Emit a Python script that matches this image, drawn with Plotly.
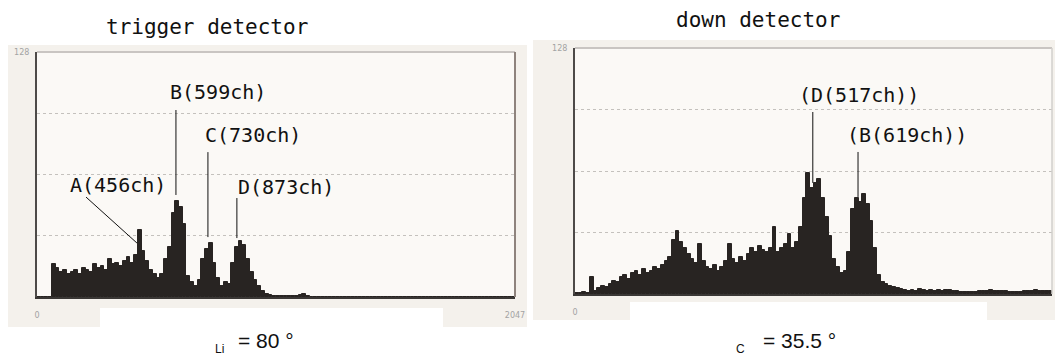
import plotly.graph_objects as go

W, H = 1055, 358
def px(x): return x / W
def py(y): return 1 - y / H

# ---------------- data ----------------
left_bin_width = 16   # channels per bin (0..2047)
right_bin_width = 8   # channels per bin (0..1023)

left_counts = [
    0, 0, 0, 0, 17, 15, 13, 14,
    12, 13, 14, 12, 15, 14, 13, 17,
    15, 16, 14, 20, 17, 18, 16, 19,
    21, 18, 22, 35, 24, 19, 14, 12,
    10, 12, 20, 26, 44, 50, 47, 38,
    11, 8, 6, 9, 20, 25, 28, 18,
    10, 6, 8, 7, 18, 26, 29, 27,
    20, 13, 9, 6, 3, 1.5, 0.8, 0.6,
    0.5, 0.4, 0.5, 0.3, 0.4, 0.5, 1.2, 1.5,
    0.6, 0, 0, 0, 0, 0, 0, 0,
    0, 0, 0, 0, 0, 0, 0, 0,
    0, 0, 0, 0, 0, 0, 0, 0,
    0, 0, 0, 0, 0, 0, 0, 0,
    0, 0, 0, 0, 0, 0, 0, 0,
    0, 0, 0, 0, 0, 0, 0, 0,
    0, 0, 0, 0, 0, 0, 0, 0,
]

right_counts = [
    0.5, 0.5, 0.8, 0.6, 9, 1.5, 3, 4,
    3.5, 5, 7, 6, 9, 10, 8, 11,
    12, 10, 13, 11, 12, 14, 13, 15,
    17, 19, 28, 33, 27, 24, 21, 18,
    16, 26, 17, 14, 13, 15, 12, 14,
    17, 26, 18, 16, 19, 17, 21, 24,
    22, 25, 23, 22, 24, 35, 22, 24,
    26, 31, 24, 27, 35, 50, 63, 55,
    58, 60, 50, 40, 30, 18, 14, 11,
    12, 22, 44, 50, 48, 52, 47, 38,
    24, 10, 6, 5, 4, 3.5, 3, 2.5,
    2, 1.8, 2.2, 1.6, 2.4, 2, 1.7, 2.3,
    1.8, 2, 1.5, 2.2, 1.9, 1.6, 1.4, 1,
    1, 0.9, 1, 1.1, 1.7, 1.8, 1.6, 1.9,
    1.7, 1.8, 1.5, 1.6, 1, 0.9, 1, 1.1,
    1.7, 1.8, 1.6, 1.9, 1.7, 1.8, 1.7, 1.8,
]

left_x = [i * left_bin_width + left_bin_width / 2 for i in range(len(left_counts))]
right_x = [i * right_bin_width + right_bin_width / 2 for i in range(len(right_counts))]

left_xmax, right_xmax, ymax = 2047, 1023, 128
left_ticks = [0, 2047]
right_ticks = [0, 1023]
y_ticks = [128]
y_grid = [32, 64, 96]

# peak labels: text, text x (left edge, ch), text y (count), line x0,y0,x1,y1
left_labels = ["A(456ch)", "B(599ch)", "C(730ch)", "D(873ch)"]
left_label_x = [133, 561, 711, 852]
left_label_y = [58.5, 107, 84.6, 57.5]
left_line_x0 = [210, 595, 732, 856]
left_line_y0 = [52.2, 97.7, 75.7, 51.7]
left_line_x1 = [428, 595, 732, 856]
left_line_y1 = [28.2, 53.3, 31.3, 30.8]

right_labels = ["(D(517ch))", "(B(619ch))"]
right_label_x = [476, 579]
right_label_y = [103.5, 82.7]
right_line_x0 = [510, 607]
right_line_y0 = [94.7, 73.9]
right_line_x1 = [510, 607]
right_line_y1 = [57.8, 50.5]

BAR = "#282422"
MONO = "DejaVu Sans Mono"

fig = go.Figure()
fig.add_trace(go.Bar(x=left_x, y=left_counts, width=left_bin_width,
                     marker=dict(color=BAR, line=dict(width=1, color=BAR)),
                     xaxis="x", yaxis="y", hoverinfo="skip"))
fig.add_trace(go.Bar(x=right_x, y=right_counts, width=right_bin_width,
                     marker=dict(color=BAR, line=dict(width=1, color=BAR)),
                     xaxis="x2", yaxis="y2", hoverinfo="skip"))

tickfont = dict(family="DejaVu Sans", size=8, color="#a3a3a3")

def xax(domain, rng, ticks, anchor):
    return dict(domain=domain, range=rng, anchor=anchor, showline=True,
                linecolor="#3a3735", linewidth=2, tickmode="array",
                tickvals=ticks, ticktext=[str(t) for t in ticks],
                tickfont=tickfont, ticks="", showgrid=False, zeroline=False,
                ticklabelstandoff=9, automargin=False, fixedrange=True)

def yax(domain, anchor):
    return dict(domain=domain, range=[0, ymax], anchor=anchor, showline=True,
                linecolor="#4d4a48", linewidth=2, tickmode="array",
                tickvals=y_ticks, ticktext=[str(t) for t in y_ticks],
                tickfont=tickfont, ticks="", showgrid=False, zeroline=False,
                ticklabelstandoff=4, automargin=False, fixedrange=True,
                minor=dict(tickmode="array", tickvals=y_grid, showgrid=True,
                           gridcolor="#c4c1bd", griddash="dot", gridwidth=1,
                           ticks=""))

shapes = [
    # scanned beige backgrounds
    dict(type="rect", xref="paper", yref="paper", x0=px(8), x1=px(527),
         y0=py(327), y1=py(45), fillcolor="#f4f1ec", line=dict(width=0), layer="below"),
    dict(type="rect", xref="paper", yref="paper", x0=px(533), x1=px(1055),
         y0=py(320), y1=py(40), fillcolor="#f4f1ec", line=dict(width=0), layer="below"),
    # plot areas
    dict(type="rect", xref="paper", yref="paper", x0=px(37), x1=px(515),
         y0=py(297), y1=py(52), fillcolor="#fbf9f6", line=dict(width=0), layer="below"),
    dict(type="rect", xref="paper", yref="paper", x0=px(575), x1=px(1052),
         y0=py(294), y1=py(48), fillcolor="#fbf9f6", line=dict(width=0), layer="below"),
    # white masks under axes
    dict(type="rect", xref="paper", yref="paper", x0=px(100), x1=px(443),
         y0=py(327), y1=py(308), fillcolor="#ffffff", line=dict(width=0), layer="below"),
    dict(type="rect", xref="paper", yref="paper", x0=px(630), x1=px(987),
         y0=py(320), y1=py(302), fillcolor="#ffffff", line=dict(width=0), layer="below"),
    # top / right borders
    dict(type="line", xref="paper", yref="paper", x0=px(37), x1=px(515),
         y0=py(52), y1=py(52), line=dict(color="#c9c5c2", width=2)),
    dict(type="line", xref="paper", yref="paper", x0=px(515), x1=px(515),
         y0=py(297), y1=py(52), line=dict(color="#8e837d", width=2)),
    dict(type="line", xref="paper", yref="paper", x0=px(575), x1=px(1052),
         y0=py(48), y1=py(48), line=dict(color="#c9c5c2", width=2)),
    dict(type="line", xref="paper", yref="paper", x0=px(1052), x1=px(1052),
         y0=py(294), y1=py(48), line=dict(color="#d2cfcc", width=1.5)),
]

annotations = []
for t, tx, ty, x0, y0, x1, y1 in zip(left_labels, left_label_x, left_label_y,
                                     left_line_x0, left_line_y0, left_line_x1, left_line_y1):
    annotations.append(dict(text=t, x=tx, y=ty, xref="x", yref="y", showarrow=False,
                            xanchor="left", yanchor="middle",
                            font=dict(family=MONO, size=20, color="#111")))
    shapes.append(dict(type="line", xref="x", yref="y", x0=x0, y0=y0, x1=x1, y1=y1,
                       line=dict(color="#111", width=1)))
for t, tx, ty, x0, y0, x1, y1 in zip(right_labels, right_label_x, right_label_y,
                                     right_line_x0, right_line_y0, right_line_x1, right_line_y1):
    annotations.append(dict(text=t, x=tx, y=ty, xref="x2", yref="y2", showarrow=False,
                            xanchor="left", yanchor="middle",
                            font=dict(family=MONO, size=20, color="#111")))
    shapes.append(dict(type="line", xref="x2", yref="y2", x0=x0, y0=y0, x1=x1, y1=y1,
                       line=dict(color="#111", width=1)))

def cap(text, x, y, family, size):
    return dict(text=text, x=px(x), y=py(y), xref="paper", yref="paper",
                xanchor="center", yanchor="middle", showarrow=False,
                font=dict(family=family, size=size, color="#111"))

# titles and bottom captions
annotations += [
    cap("trigger detector", 207, 27, MONO, 21),
    cap("down detector", 758, 20, MONO, 21),
    cap("Li", 219, 349, "Liberation Sans", 12),
    cap("= 80 °", 266, 340, "Liberation Sans", 21),
    cap("C", 740, 349, "Liberation Sans", 12),
    cap("= 35.5 °", 799, 340, "Liberation Sans", 21),
]

fig.update_layout(
    width=W, height=H, margin=dict(l=0, r=0, t=0, b=0),
    paper_bgcolor="#ffffff", plot_bgcolor="rgba(0,0,0,0)",
    showlegend=False, bargap=0, barmode="overlay",
    xaxis=xax([px(37), px(515)], [0, left_xmax], left_ticks, "y"),
    yaxis=yax([py(297), py(52)], "x"),
    xaxis2=xax([px(575), px(1052)], [0, right_xmax], right_ticks, "y2"),
    yaxis2=yax([py(294), py(48)], "x2"),
    shapes=shapes, annotations=annotations,
)

fig.write_html("out.html")
